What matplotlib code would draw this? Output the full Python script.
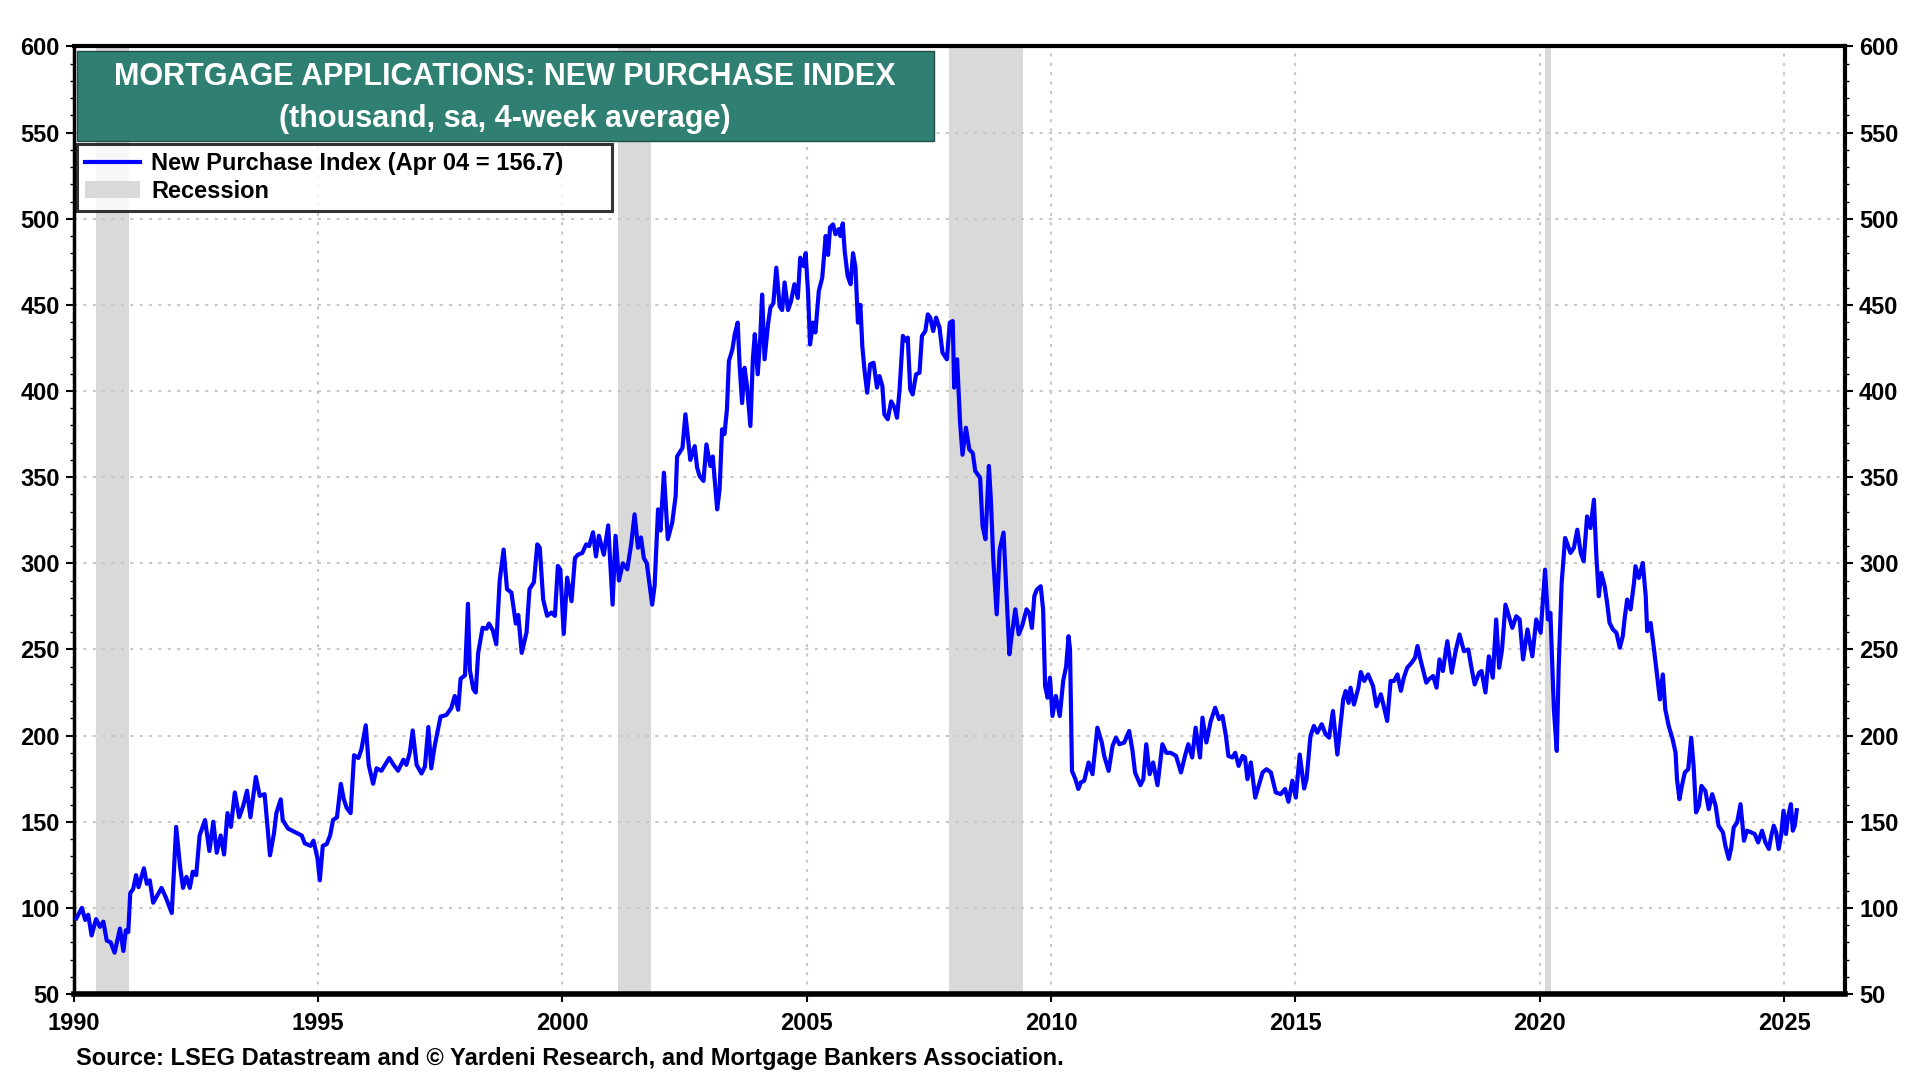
import numpy as np
import matplotlib.pyplot as plt
from matplotlib.patches import Rectangle
from matplotlib.lines import Line2D
from matplotlib.ticker import MultipleLocator

plt.rcParams['font.family'] = ['Liberation Sans', 'DejaVu Sans']
plt.rcParams['font.weight'] = 'bold'

# weekly new purchase index (decimal year, value)
t_90s = [1990.06, 1990.17, 1990.24, 1990.30, 1990.37, 1990.46, 1990.54, 1990.61, 1990.68, 1990.76,
         1990.84, 1990.95, 1991.02, 1991.07, 1991.12, 1991.16, 1991.22, 1991.28, 1991.33, 1991.44,
         1991.50, 1991.56, 1991.63, 1991.71, 1991.80, 1991.89, 1992.01, 1992.10, 1992.18, 1992.24,
         1992.31, 1992.38, 1992.44, 1992.51, 1992.58, 1992.69, 1992.78, 1992.86, 1992.93, 1993.01,
         1993.08, 1993.15, 1993.22, 1993.30, 1993.39, 1993.47, 1993.55, 1993.62, 1993.73, 1993.81,
         1993.91, 1994.02, 1994.10, 1994.15, 1994.24, 1994.28, 1994.39, 1994.53, 1994.67, 1994.73,
         1994.85, 1994.91, 1994.99, 1995.04, 1995.10, 1995.18, 1995.25, 1995.31, 1995.39, 1995.47,
         1995.53, 1995.59, 1995.67, 1995.74, 1995.83, 1995.89, 1995.98, 1996.04, 1996.13, 1996.20,
         1996.30, 1996.46, 1996.55, 1996.64, 1996.75, 1996.81, 1996.88, 1996.94, 1997.02, 1997.12,
         1997.19, 1997.26, 1997.32, 1997.39, 1997.51, 1997.63, 1997.73, 1997.80, 1997.87, 1997.92,
         1998.01, 1998.07, 1998.11, 1998.18, 1998.23, 1998.28, 1998.37, 1998.45, 1998.50, 1998.58,
         1998.65, 1998.72, 1998.80, 1998.87, 1998.96, 1999.05, 1999.10, 1999.17, 1999.27, 1999.33,
         1999.42, 1999.49]
v_90s = [94, 100, 93, 96, 84, 93.5, 89, 92, 81, 80,
         74, 88, 75, 87, 86, 108.5, 111, 119, 112, 123,
         114, 116, 103, 107, 111.6, 106, 97, 147, 124, 111.6,
         118, 111.6, 121, 119, 142, 151, 133, 150, 132, 142,
         131, 155, 147, 167, 152.6, 159, 168, 152.6, 176, 165,
         166, 130.5, 143, 155, 163, 151, 146, 144, 142, 137.5,
         136, 139, 129, 116, 136, 137, 142, 151, 152.6, 172,
         163, 158, 155, 188.6, 187, 192, 206, 183, 172, 181,
         179.6, 187, 183, 179.6, 186, 183, 190, 203, 183, 178,
         182, 205, 181, 194, 211, 212, 216, 223, 215, 233,
         235, 276.5, 238, 227, 225, 248, 262.6, 262, 265, 261,
         253, 290, 308, 285, 283, 265, 270, 248, 260, 285,
         289, 311]

t_00s = [1999.54, 1999.61, 1999.69, 1999.78, 1999.85, 1999.91, 1999.96, 2000.03, 2000.10, 2000.19,
         2000.26, 2000.32, 2000.41, 2000.49, 2000.55, 2000.63, 2000.69, 2000.75, 2000.85, 2000.94,
         2001.03, 2001.09, 2001.16, 2001.24, 2001.33, 2001.41, 2001.48, 2001.55, 2001.61, 2001.67,
         2001.73, 2001.84, 2001.89, 2001.96, 2002.01, 2002.08, 2002.16, 2002.25, 2002.32, 2002.35,
         2002.46, 2002.52, 2002.62, 2002.71, 2002.76, 2002.81, 2002.89, 2002.95, 2003.03, 2003.08,
         2003.17, 2003.22, 2003.27, 2003.32, 2003.37, 2003.41, 2003.48, 2003.53, 2003.59, 2003.63,
         2003.68, 2003.73, 2003.78, 2003.85, 2003.90, 2003.94, 2004.00, 2004.05, 2004.09, 2004.14,
         2004.21, 2004.26, 2004.32, 2004.38, 2004.45, 2004.50, 2004.55, 2004.62, 2004.68, 2004.75,
         2004.82, 2004.87, 2004.94, 2004.98, 2005.03, 2005.07, 2005.13, 2005.18, 2005.25, 2005.32,
         2005.39, 2005.44, 2005.48, 2005.54, 2005.59, 2005.66, 2005.69, 2005.74, 2005.78, 2005.84,
         2005.90, 2005.95, 2006.00, 2006.05, 2006.10, 2006.14, 2006.19, 2006.24, 2006.30, 2006.37,
         2006.44, 2006.49, 2006.55, 2006.59, 2006.66, 2006.73, 2006.80, 2006.85, 2006.90, 2006.97,
         2007.04, 2007.07, 2007.12, 2007.17, 2007.24, 2007.31, 2007.36, 2007.43, 2007.48, 2007.53,
         2007.59, 2007.65, 2007.72, 2007.78, 2007.87, 2007.93, 2007.99, 2008.02, 2008.08, 2008.14,
         2008.19, 2008.26, 2008.33, 2008.40, 2008.45, 2008.55, 2008.60, 2008.66, 2008.73, 2008.77,
         2008.82, 2008.89, 2008.95, 2009.03, 2009.08, 2009.15, 2009.20, 2009.27, 2009.34, 2009.41,
         2009.50]
v_00s = [309, 279, 269.5, 271.4, 269.5, 298.5, 296.5, 259, 291.7, 278,
         303, 305, 306, 311, 310, 318, 304, 316, 305, 322,
         276, 316, 290, 300, 296.5, 311, 328.4, 309, 315, 303,
         300, 276, 287, 331.3, 319, 352.6, 314, 323.6, 339, 362,
         367, 386.5, 360, 368, 355.5, 350.7, 347.8, 369, 356.5, 362,
         331.3, 343, 377.8, 375, 389.4, 417.4, 424, 433, 439.7, 414.5,
         393, 413.5, 403, 379.7, 418.4, 433, 409.7, 430, 456, 418.4,
         438.7, 448.4, 451, 471.6, 449, 447, 463, 447, 452, 462,
         454, 477.4, 472.5, 480, 457, 427, 439.7, 434, 458, 465.8,
         490, 479, 495, 496.7, 491, 494, 490, 497.3, 481, 466.7,
         462, 480, 471.6, 439.7, 450, 426, 410.6, 399, 415.5, 416.4,
         402, 408.7, 403, 386.5, 383.6, 394, 390.3, 384.5, 400, 432,
         429, 431, 401, 398, 409.7, 410.6, 432, 434.8, 444.5, 442.6,
         434.8, 442.6, 436.8, 422.3, 418.4, 439.7, 440.6, 402, 418.4, 381.6,
         363, 378.7, 366, 364, 353.6, 349.7, 321.7, 314, 356.5, 337,
         302.3, 270.4, 308, 317.8, 288.8, 247.2, 258.8, 273.3, 258.8, 263.6,
         273.3]

t_10s = [2009.56, 2009.61, 2009.66, 2009.71, 2009.79, 2009.84, 2009.88, 2009.93, 2009.98, 2010.03,
         2010.10, 2010.18, 2010.25, 2010.31, 2010.36, 2010.39, 2010.43, 2010.50, 2010.56, 2010.61,
         2010.68, 2010.77, 2010.85, 2010.95, 2011.04, 2011.09, 2011.18, 2011.26, 2011.33, 2011.40,
         2011.50, 2011.60, 2011.67, 2011.72, 2011.83, 2011.89, 2011.95, 2012.02, 2012.09, 2012.18,
         2012.28, 2012.36, 2012.45, 2012.56, 2012.66, 2012.75, 2012.81, 2012.89, 2012.96, 2013.05,
         2013.10, 2013.18, 2013.27, 2013.36, 2013.44, 2013.51, 2013.58, 2013.63, 2013.71, 2013.77,
         2013.84, 2013.92, 2013.97, 2014.02, 2014.09, 2014.18, 2014.26, 2014.33, 2014.41, 2014.50,
         2014.60, 2014.70, 2014.79, 2014.86, 2014.94, 2015.01, 2015.09, 2015.18, 2015.23, 2015.31,
         2015.38, 2015.45, 2015.54, 2015.62, 2015.69, 2015.77, 2015.86, 2015.93, 2015.98, 2016.03,
         2016.09, 2016.13, 2016.20, 2016.29, 2016.34, 2016.41, 2016.49, 2016.59, 2016.66, 2016.75,
         2016.81, 2016.88, 2016.95, 2017.02, 2017.09, 2017.16, 2017.22, 2017.29, 2017.38, 2017.45,
         2017.50, 2017.56, 2017.62, 2017.68, 2017.73, 2017.82, 2017.89, 2017.95, 2018.02, 2018.11,
         2018.20, 2018.28, 2018.36, 2018.45, 2018.54, 2018.61, 2018.67, 2018.76, 2018.81, 2018.89,
         2018.96, 2019.04, 2019.11]
v_10s = [271, 262.5, 281, 284.7, 286.7, 273, 228.8, 222, 233.6, 211.4,
         223, 211.4, 231.7, 240, 257.7, 250, 179.5, 174.7, 169, 172.8,
         173.8, 184.4, 177.6, 204.6, 196, 188.2, 179.5, 194, 198.8, 195,
         196, 202.7, 191, 178.6, 171.2, 174.7, 195, 177.6, 184.4, 171.2,
         195, 190, 190, 188.2, 178.6, 189, 195, 187.3, 204.6, 187.3,
         210.4, 196, 208.5, 216.2, 209.5, 211.4, 199.8, 188.2, 187.3, 190,
         182.4, 188.2, 187.3, 174.7, 184.4, 164, 171.8, 178.6, 180.5, 178.6,
         167, 166, 169, 161.6, 173.8, 164, 189, 169.3, 174.7, 199.8,
         205.6, 201.7, 206.6, 200.8, 198.8, 214.3, 189, 207.5, 221, 225.9,
         219, 227.8, 218, 227.8, 236.9, 231.7, 235.5, 228.8, 217, 224,
         217, 208.5, 231.7, 231.7, 235.5, 226, 233.6, 239.4, 242.3, 245.2,
         252, 244.2, 237.5, 230.7, 232.6, 234.6, 227.8, 244.2, 237.5, 254.8,
         236.5, 249, 258.7, 249, 250, 238.4, 229.7, 236.5, 237.5, 225,
         246, 233.6, 267.4]

t_20s = [2019.17, 2019.23, 2019.30, 2019.44, 2019.52, 2019.59, 2019.66, 2019.75, 2019.85, 2019.93,
         2020.02, 2020.11, 2020.17, 2020.22, 2020.27, 2020.29, 2020.35, 2020.39, 2020.45, 2020.52,
         2020.56, 2020.63, 2020.70, 2020.77, 2020.84, 2020.90, 2020.97, 2021.04, 2021.11, 2021.16,
         2021.21, 2021.26, 2021.33, 2021.38, 2021.43, 2021.50, 2021.57, 2021.64, 2021.70, 2021.74,
         2021.79, 2021.86, 2021.93, 2021.96, 2022.03, 2022.11, 2022.17, 2022.20, 2022.27, 2022.34,
         2022.38, 2022.46, 2022.52, 2022.57, 2022.64, 2022.72, 2022.78, 2022.81, 2022.86, 2022.91,
         2022.97, 2023.04, 2023.10, 2023.15, 2023.20, 2023.26, 2023.31, 2023.39, 2023.46, 2023.53,
         2023.60, 2023.66, 2023.75, 2023.80, 2023.87, 2023.92, 2023.97, 2024.04, 2024.11, 2024.18,
         2024.24, 2024.33, 2024.40, 2024.47, 2024.55, 2024.62, 2024.69, 2024.74, 2024.79, 2024.84,
         2024.89, 2024.94, 2024.99, 2025.04, 2025.08, 2025.14, 2025.18, 2025.22, 2025.26]
v_20s = [239.4, 250, 276, 262.5, 269.3, 267.4, 244.2, 261.6, 246, 267.4,
         259.7, 296.3, 267.4, 271.2, 230.7, 215.3, 191.1, 240.3, 288.6, 314.7,
         311.8, 306, 309, 319.5, 306, 301.2, 327.2, 320.5, 336.9, 304,
         280.9, 294.4, 286.7, 277, 265.4, 261.6, 259.7, 251, 257.7, 268.3,
         279, 273.2, 288.6, 298.3, 291.5, 300.2, 280.9, 260.6, 265.4, 250,
         240.3, 221, 235.5, 215.3, 205.6, 197.9, 190.2, 174.7, 163.1, 170.8,
         178.6, 180.5, 198.8, 182.4, 155.4, 159.3, 170.8, 167.9, 157.3, 166,
         159.3, 147.7, 143.8, 136.1, 128.4, 135.1, 146.7, 149.6, 160.2, 139,
         144.8, 143.8, 142.9, 138, 144.8, 138, 134.2, 141.9, 147.7, 143.8,
         134.2, 141.9, 156.4, 142.9, 152.5, 160.2, 144.8, 147.7, 156.7]

# NBER recessions as shaded on the chart
rec_start = [1990.46, 2001.15, 2007.92, 2020.10]
rec_end = [1991.14, 2001.81, 2009.42, 2020.24]

dates = np.array(t_90s + t_00s + t_10s + t_20s)
values = np.array(v_90s + v_00s + v_10s + v_20s)

fig = plt.figure(figsize=(19.2, 10.8), dpi=100)
ax = fig.add_axes([0.0383, 0.0796, 0.9227, 0.8774])

rec_color = '#d9d9d9'
line_color = '#0000ff'
for s, e in zip(rec_start, rec_end):
    ax.axvspan(s, e, color=rec_color, lw=0, zorder=0)

ax.plot(dates, values, color=line_color, lw=3.0, zorder=3)

ax.set_xlim(1990, 2026.25)
ax.set_ylim(50, 600)
ax.set_xticks(np.arange(1990, 2026, 5))
ax.set_yticks(np.arange(50, 601, 50))
ax.yaxis.set_minor_locator(MultipleLocator(10))
ax.grid(True, which='major', color='#c8c8c8', ls=(0, (1.5, 3)), lw=1.5, zorder=1)

ax.tick_params(axis='y', which='both', left=True, right=True, labelleft=True, labelright=True,
               direction='out', labelsize=17)
ax.tick_params(axis='y', which='major', length=6, width=1.5, pad=4)
ax.tick_params(axis='y', which='minor', length=3, width=1)
ax.tick_params(axis='x', which='major', length=6, width=1.5, labelsize=17, pad=7)
for lab in ax.get_xticklabels() + ax.get_yticklabels():
    lab.set_fontweight('bold')

for side, w in [('left', 2.5), ('right', 3), ('top', 3), ('bottom', 4)]:
    ax.spines[side].set_linewidth(w)
    ax.spines[side].set_color('black')

# title box
ax.add_patch(Rectangle((77 / 1920, 1 - 141 / 1080), (934 - 77) / 1920, 90 / 1080,
                       transform=fig.transFigure, facecolor='#2f7f72', edgecolor='#1f4f47',
                       lw=1, zorder=5, clip_on=False))
fig.text(505 / 1920, 1 - 77 / 1080, 'MORTGAGE APPLICATIONS: NEW PURCHASE INDEX',
         color='white', fontsize=22, fontweight='bold', ha='center', va='center', zorder=6)
fig.text(505 / 1920, 1 - 119 / 1080, '(thousand, sa, 4-week average)',
         color='white', fontsize=22, fontweight='bold', ha='center', va='center', zorder=6)

# legend
handles = [Line2D([], [], color=line_color, lw=3.0),
           Rectangle((0, 0), 1, 1, facecolor=rec_color, edgecolor='none')]
labels = ['New Purchase Index (Apr 04 = 156.7)', 'Recession']
leg = ax.legend(handles, labels, loc='upper left', mode='expand',
                bbox_to_anchor=(77 / 1920, 1 - 208 / 1080, 535 / 1920, 64 / 1080),
                bbox_transform=fig.transFigure, frameon=True, fancybox=False,
                prop={'size': 17, 'weight': 'bold'}, borderpad=0.35, labelspacing=0.2,
                handlelength=2.3, handletextpad=0.5, borderaxespad=0)
leg.get_frame().set_edgecolor('black')
leg.get_frame().set_linewidth(2.2)
leg.set_zorder(6)

fig.text(76 / 1920, 1 - 1059 / 1080,
         'Source: LSEG Datastream and \u00a9 Yardeni Research, and Mortgage Bankers Association.',
         fontsize=17, fontweight='bold', ha='left', va='center')

fig.savefig('out.png', dpi=100)
